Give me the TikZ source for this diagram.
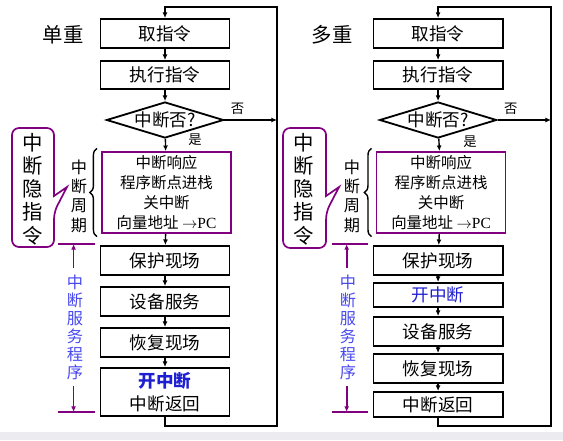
\documentclass[tikz,border=0pt]{standalone}
\usepackage{fontspec}
\setmainfont{Liberation Serif}
\newfontfamily\cjk{Noto Sans CJK SC}
\usetikzlibrary{shapes.geometric,arrows.meta,decorations.pathreplacing}
\definecolor{vio}{RGB}{128,0,128}
\definecolor{sblue}{RGB}{72,72,240}
\definecolor{kblue}{RGB}{30,30,210}
\definecolor{band}{RGB}{235,235,240}
\begin{document}
\begin{tikzpicture}[x=0.025cm,y=-0.025cm,
  box/.style={draw,line width=1.3pt,minimum width=3.225cm,minimum height=0.725cm,inner sep=0pt,font=\cjk\fontsize{12.5}{14}\selectfont},
  dec/.style={diamond,draw,line width=1.3pt,aspect=3.25,minimum width=2.925cm,minimum height=0.9cm,inner sep=0pt,font=\cjk\fontsize{12.5}{14}\selectfont},
  cyc/.style={draw=vio,line width=1.2pt,minimum width=3.225cm,minimum height=2.025cm,inner sep=0pt,align=center,font=\cjk\fontsize{11}{14.2}\selectfont},
  ar/.style={line width=1pt,-{Latex[length=4pt,width=3.5pt]}},
  lp/.style={line width=2pt,-{Latex[length=4pt,width=3.5pt]}},
  small/.style={font=\cjk\fontsize{9.5}{11}\selectfont},
  title/.style={font=\cjk\fontsize{14.5}{16}\selectfont},
  vtext/.style={align=center,inner sep=0pt,font=\cjk\fontsize{11.5}{13.8}\selectfont},
  hid/.style={align=center,inner sep=0pt,font=\cjk\fontsize{14.5}{16.5}\selectfont},
  callout/.style={draw=vio,line width=1.2pt},
  brc/.style={decorate,decoration={brace,amplitude=5pt},line width=1pt},
  vl/.style={draw=vio,line width=1.2pt},
  va/.style={vio,line width=1.2pt,-{Latex[length=4pt,width=3.5pt]}},
  svc/.style={align=center,inner sep=0pt,outer sep=5pt,text=sblue,font=\cjk\fontsize{11.5}{12.8}\selectfont}]
\useasboundingbox (0,0) rectangle (563,440);
\fill[band] (0,432) rectangle (563,440);
% single level
\begin{scope}
\node[title] (lvl) at (63,35) {单重};
\node[box] (fetch) at (165,33.5) {取指令};
\node[box,minimum height=0.7cm] (exec) at (165,75) {执行指令};
\node[dec] (dec) at (165,120) {中断否?};
\node[cyc] (cyc) at (166.5,192.5) {中断响应\\程序断点进栈\\关中断\\向量地址 $\rightarrow$\textrm{PC}};
\node[box] (save) at (165,260.5) {保护现场};
\node[box] (dev) at (165,301.5) {设备服务};
\node[box] (rest) at (165,342.5) {恢复现场};
\node[box,minimum height=1.2cm,align=center] (ret) at (165,392) {{\bfseries\color{kblue}开中断}\\[2pt]中断返回};
\coordinate (lb) at (277,426);
\coordinate (lt) at (277,7);
\draw[ar] (fetch) -- (exec);
\draw[ar] (exec) -- (dec);
\draw[ar] (dec) -- (cyc);
\draw[ar] (cyc) -- (save);
\draw[ar] (save) -- (dev);
\draw[ar] (dev) -- (rest);
\draw[ar] (rest) -- (ret);
\draw[lp] (ret.south) |- (lb) -- (lt) -| (fetch.north);
\draw[ar] (dec.east) -- (dec.east -| lb) node[small,above,pos=0.25] {否};
\node[small] (yes) at (195,140) {是};
\draw[brc] ([xshift=-3pt,yshift=-2pt]cyc.south west) -- ([xshift=-3pt,yshift=2pt]cyc.north west);
\node[vtext] (per) at (79,196) {中\\断\\周\\期};
\draw[callout,rounded corners=5pt] (54,160) -- (54,128) -- (12,128) -- (12,247) -- (54,247) -- (54,212) [sharp corners] -- (67,187) -- (54,196) -- cycle;
\node[hid] (hid) at (33,189) {中\\断\\隐\\指\\令};
\coordinate (ta) at (58,244);
\coordinate (tb) at (58,412);
\draw[vl] (ta) -- ++(37,0);
\draw[vl] (tb) -- ++(37,0);
\node[svc] (srv) at (75,327) {中\\断\\服\\务\\程\\序};
\draw[va] ([xshift=-1pt]srv.north) -- ([xshift=-1pt]srv.north |- ta);
\draw[va] ([xshift=-1pt]srv.south) -- ([xshift=-1pt]srv.south |- tb);
\end{scope}
% multi level
\begin{scope}[xshift=6.825cm]
\node[title] (lvl) at (59,35) {多重};
\node[box] (fetch) at (165,33.5) {取指令};
\node[box,minimum height=0.7cm] (exec) at (165,75) {执行指令};
\node[dec] (dec) at (165,120) {中断否?};
\node[cyc] (cyc) at (168,192.5) {中断响应\\程序断点进栈\\关中断\\向量地址 $\rightarrow$\textrm{PC}};
\node[box] (save) at (165,260.5) {保护现场};
\node[box,minimum height=0.6cm,text=kblue] (kai) at (165,295) {开中断};
\node[box] (dev) at (165,331.5) {设备服务};
\node[box] (rest) at (165,368.5) {恢复现场};
\node[box,minimum height=0.625cm] (ret) at (165,404.5) {中断返回};
\coordinate (lb) at (278,426);
\coordinate (lt) at (278,7);
\draw[ar] (fetch) -- (exec);
\draw[ar] (exec) -- (dec);
\draw[ar] (dec) -- (cyc);
\draw[ar] (cyc) -- (save);
\draw[ar] (save) -- (kai);
\draw[ar] (kai) -- (dev);
\draw[ar] (dev) -- (rest);
\draw[ar] (rest) -- (ret);
\draw[lp] (ret.south) |- (lb) -- (lt) -| (fetch.north);
\draw[ar] (dec.east) -- (dec.east -| lb) node[small,above,pos=0.25] {否};
\node[small] (yes) at (197,142) {是};
\draw[brc] ([xshift=-3pt,yshift=-2pt]cyc.south west) -- ([xshift=-3pt,yshift=2pt]cyc.north west);
\node[vtext] (per) at (79,196) {中\\断\\周\\期};
\draw[callout,rounded corners=5pt] (53,160) -- (53,128) -- (10,128) -- (10,248) -- (53,248) -- (53,212) [sharp corners] -- (66,187) -- (53,196) -- cycle;
\node[hid] (hid) at (31,189) {中\\断\\隐\\指\\令};
\coordinate (ta) at (59,244);
\coordinate (tb) at (59,412);
\draw[vl] (ta) -- ++(36,0);
\draw[vl] (tb) -- ++(36,0);
\node[svc] (srv) at (75,327) {中\\断\\服\\务\\程\\序};
\draw[va] ([xshift=-1pt]srv.north) -- ([xshift=-1pt]srv.north |- ta);
\draw[va] ([xshift=-1pt]srv.south) -- ([xshift=-1pt]srv.south |- tb);
\end{scope}
\end{tikzpicture}
\end{document}
